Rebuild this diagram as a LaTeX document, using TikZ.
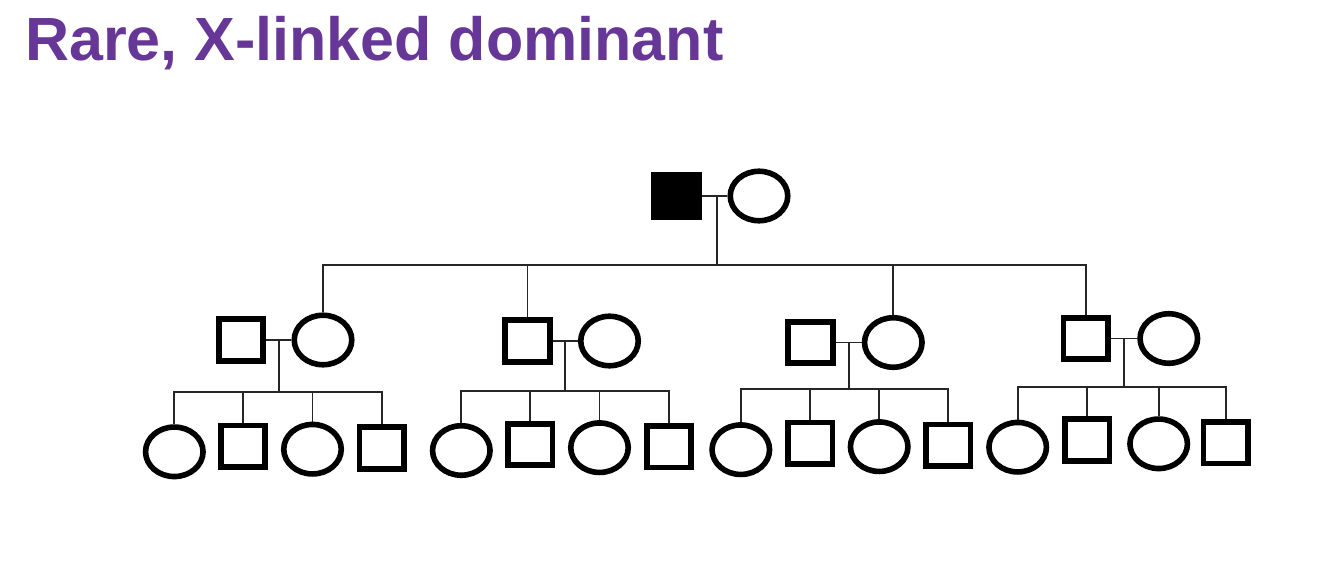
\documentclass[tikz,border=0pt]{standalone}
\usepackage{fontspec}
\setmainfont{Liberation Sans}
\usepackage{tikz}
\usetikzlibrary{calc,shapes.geometric}
\usepackage{xcolor}
\definecolor{pgPurple}{RGB}{102,55,150}
\definecolor{pgInk}{RGB}{0,0,0}
\tikzset{
    male/.style={
        draw=pgInk,line width=5.6pt,inner sep=0pt,
        minimum width=44.5pt,minimum height=41.5pt
    },
    female/.style={
        ellipse,draw=pgInk,line width=5.6pt,inner sep=0pt,
        minimum width=57.5pt,minimum height=49.5pt
    },
    affected/.style={fill=pgInk},
    link/.style={
        line width=1.7pt,draw=pgInk!85
    },
    heading/.style={
        inner sep=0pt,anchor=base west,text=pgPurple,
        font=\fontsize{61}{70}\selectfont\bfseries
    }
}

\begin{document}
\begin{tikzpicture}[x=1pt,y=-1pt]
\useasboundingbox (0,0) rectangle (1334,572);

\node[heading] (title) at (25,61) {Rare, X-linked dominant};

\node[male,affected] (f0) at (676.5,196) {};
\node[female] (m0) at (759,196) {};

\node[male] (a1) at (241,340) {};
\node[female] (b1) at (323,340) {};
\node[male] (a2) at (527.5,341) {};
\node[female] (b2) at (609.5,341) {};
\node[male] (a3) at (810.5,342.5) {};
\node[female] (b3) at (893.3,342.5) {};
\node[male] (a4) at (1085.8,338.5) {};
\node[female] (b4) at (1168.8,338.5) {};

\node[female] (c11) at (174.3,451.8) {};
\node[male] (c12) at (243,446.3) {};
\node[female] (c13) at (312.5,449.2) {};
\node[male] (c14) at (381.7,448) {};

\node[female] (c21) at (461.3,450.5) {};
\node[male] (c22) at (530.3,444.5) {};
\node[female] (c23) at (599.5,447.7) {};
\node[male] (c24) at (669,446.7) {};

\node[female] (c31) at (740.8,449.7) {};
\node[male] (c32) at (810.2,443.3) {};
\node[female] (c33) at (879.2,446.7) {};
\node[male] (c34) at (948.3,445.3) {};

\node[female] (c41) at (1017.7,447.2) {};
\node[male] (c42) at (1087.3,440) {};
\node[female] (c43) at (1158.7,443.8) {};
\node[male] (c44) at (1225.8,442.7) {};

\coordinate (sib) at (717,265);
\coordinate (k1) at (279,392.3);
\coordinate (k2) at (566,390.7);
\coordinate (k3) at (847,389);
\coordinate (k4) at (1124,386.7);

\draw[link] (f0) -- (m0);
\coordinate (d0) at ($(f0.east)!.6!(m0.west)$);
\draw[link] (d0) -- (d0 |- sib);
\draw[link] (b1.north) |- (a4.north |- sib) -- (a4.north);
\draw[link] (a2.north) -- (a2.north |- sib);
\draw[link] (b3.north) -- (b3.north |- sib);

\draw[link] (a1) -- (b1);
\coordinate (d1) at ($(a1.east)!.5!(b1.west)$);
\draw[link] (d1) -- (d1 |- k1);
\draw[link] (c11.north) |- (c14.north |- k1) -- (c14.north);
\draw[link] (c12.north) -- (c12.north |- k1);
\draw[link] (c13.north) -- (c13.north |- k1);

\draw[link] (a2) -- (b2);
\coordinate (d2) at ($(a2.east)!.5!(b2.west)$);
\draw[link] (d2) -- (d2 |- k2);
\draw[link] (c21.north) |- (c24.north |- k2) -- (c24.north);
\draw[link] (c22.north) -- (c22.north |- k2);
\draw[link] (c23.north) -- (c23.north |- k2);

\draw[link] (a3) -- (b3);
\coordinate (d3) at ($(a3.east)!.5!(b3.west)$);
\draw[link] (d3) -- (d3 |- k3);
\draw[link] (c31.north) |- (c34.north |- k3) -- (c34.north);
\draw[link] (c32.north) -- (c32.north |- k3);
\draw[link] (c33.north) -- (c33.north |- k3);

\draw[link] (a4) -- (b4);
\coordinate (d4) at ($(a4.east)!.5!(b4.west)$);
\draw[link] (d4) -- (d4 |- k4);
\draw[link] (c41.north) |- (c44.north |- k4) -- (c44.north);
\draw[link] (c42.north) -- (c42.north |- k4);
\draw[link] (c43.north) -- (c43.north |- k4);

\end{tikzpicture}
\end{document}
